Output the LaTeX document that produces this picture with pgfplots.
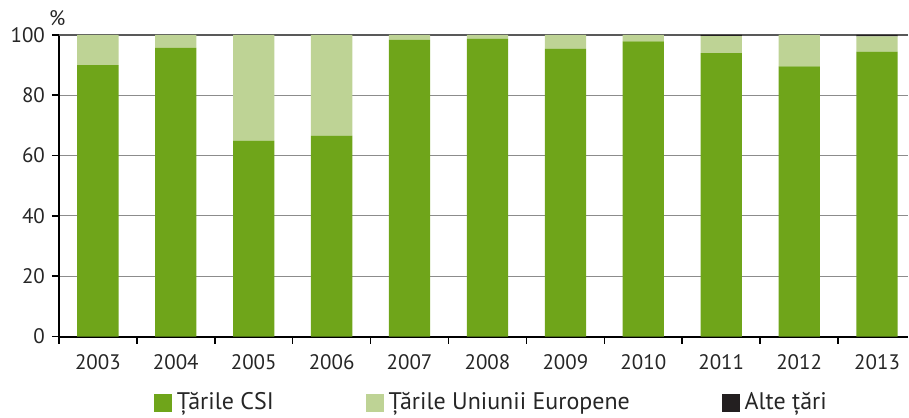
\documentclass[border=0pt]{standalone}
\usepackage{pgfplots}
\pgfplotsset{compat=1.18}
\usepackage{fontspec}
\setmainfont{PT Sans}
\definecolor{csi}{HTML}{6FA51A}
\definecolor{ue}{HTML}{BED395}
\definecolor{alte}{HTML}{231F20}
\begin{document}
\begin{tikzpicture}
\begin{axis}[
  scale only axis,
  width=425pt, height=151pt,
  ybar stacked,
  bar width=0.53,
  xmin=-0.5, xmax=10.397,
  ymin=0, ymax=100,
  axis lines*=left,
  axis line style={black, line width=1pt},
  xtick={0,...,10},
  xticklabels={2003,2004,2005,2006,2007,2008,2009,2010,2011,2012,2013},
  major x tick style={draw=none},
  minor xtick={-0.5,0.5,...,10.5},
  minor x tick style={black, line width=0.8pt},
  minor tick length=3.5pt,
  ytick={0,20,...,100},
  ymajorgrids,
  major grid style={draw=black!45, line width=0.5pt},
  y tick style={black, line width=0.8pt},
  major tick length=3.5pt,
  tick align=outside,
  tick label style={font=\fontsize{10.5}{12}\selectfont, text=black!85},
  /pgf/number format/assume math mode=true,
  xticklabel style={yshift=-2pt},
  clip=false,
  legend columns=3,
  legend style={draw=none, fill=none, at={(rel axis cs:0.511,-0.2185)}, anchor=center,
    font=\fontsize{12}{14}\selectfont, text=black!85,
    /tikz/every even column/.append style={column sep=43.5pt},
    inner sep=0pt, nodes={inner sep=2.5pt}},
  legend image code/.code={\fill[#1] (0pt,-4.5pt) rectangle (9pt,4.5pt);},
]
\draw[draw=none] (rel axis cs:-0.0694,-0.2583) rectangle (rel axis cs:1,1.1159);
\addplot[fill=csi, draw=none] coordinates {(0,90) (1,95.7) (2,65) (3,66.6) (4,98.4) (5,98.8) (6,95.5) (7,97.9) (8,94) (9,89.6) (10,94.5)};
\addplot[fill=ue, draw=none] coordinates {(0,10) (1,4.3) (2,35) (3,33.4) (4,1.6) (5,1.2) (6,4.5) (7,2.1) (8,5.6) (9,10.4) (10,5)};
\addplot[fill=alte, draw=none] coordinates {(0,0) (1,0) (2,0) (3,0) (4,0) (5,0) (6,0) (7,0) (8,0.4) (9,0) (10,0.5)};
\legend{Țările CSI, Țările Uniunii Europene, Alte țări}
\draw[black!65, line width=0.7pt] (rel axis cs:0,1) -- (rel axis cs:1,1);
\node[font=\fontsize{10.5}{12}\selectfont, text=black!85] at (rel axis cs:-0.002,1.056) {\%};
\end{axis}
\end{tikzpicture}
\end{document}
